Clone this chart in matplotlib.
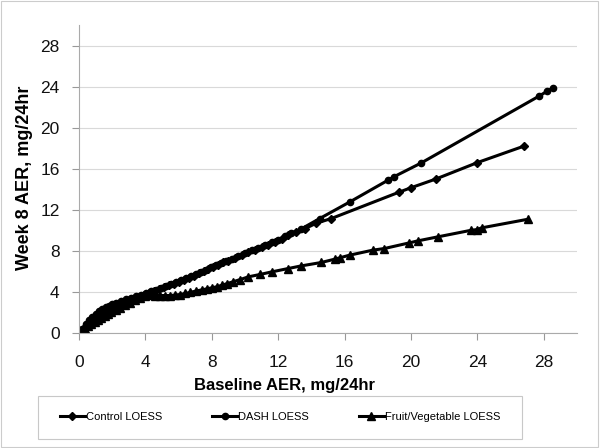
import matplotlib
matplotlib.use("Agg")
import matplotlib.pyplot as plt
from matplotlib.patches import Rectangle

plt.rcParams['font.family'] = ['Liberation Sans', 'DejaVu Sans']

# Control LOESS
control_x = [0.1, 0.3, 0.5, 0.7, 0.9, 1.1, 1.3, 1.5, 1.7, 1.9, 2.1, 2.4, 2.7, 3.0, 3.3,
             3.6, 3.9, 4.2, 4.5, 4.8, 5.1, 5.4, 5.7, 6.0, 6.3, 6.6, 6.9, 7.2, 7.5, 7.8,
             8.1, 8.4, 8.7, 9.0, 9.4, 9.8, 10.2, 10.6, 11.0, 11.4, 11.8, 12.2, 12.6,
             13.1, 13.6, 14.3, 15.2, 19.3, 20.0, 21.5, 24.0, 26.8]
control_y = [0.2, 0.5, 0.85, 1.1, 1.35, 1.6, 1.8, 2.0, 2.2, 2.35, 2.5, 2.7, 2.9, 3.1, 3.3,
             3.5, 3.7, 3.85, 4.05, 4.25, 4.45, 4.65, 4.8, 5.0, 5.2, 5.4, 5.6, 5.8, 6.0, 6.25,
             6.45, 6.65, 6.9, 7.05, 7.3, 7.6, 7.85, 8.1, 8.35, 8.6, 8.9, 9.2, 9.5,
             9.8, 10.15, 10.7, 11.15, 13.73, 14.15, 15.0, 16.6, 18.2]

# DASH LOESS
dash_x = [0.2, 0.4, 0.6, 0.8, 1.0, 1.2, 1.4, 1.6, 1.8, 2.0, 2.25, 2.55, 2.85, 3.15, 3.45,
          3.75, 4.05, 4.35, 4.65, 4.95, 5.25, 5.55, 5.85, 6.15, 6.45, 6.75, 7.05, 7.35, 7.65,
          7.95, 8.25, 8.55, 8.85, 9.2, 9.6, 10.0, 10.4, 10.8, 11.2, 11.6, 12.0, 12.4, 12.8,
          13.4, 14.5, 16.35, 18.6, 18.95, 20.6, 27.7, 28.2, 28.56]
dash_y = [0.4, 0.85, 1.25, 1.6, 1.85, 2.1, 2.3, 2.5, 2.65, 2.8, 2.95, 3.1, 3.3, 3.45, 3.6,
          3.75, 3.9, 4.05, 4.2, 4.4, 4.6, 4.8, 4.95, 5.15, 5.35, 5.55, 5.75, 5.95, 6.15,
          6.4, 6.6, 6.8, 7.0, 7.25, 7.5, 7.8, 8.05, 8.3, 8.55, 8.85, 9.1, 9.4, 9.7,
          10.15, 11.15, 12.8, 14.87, 15.2, 16.55, 23.06, 23.55, 23.88]

# Fruit/Vegetable LOESS
fv_x = [0.15, 0.35, 0.55, 0.75, 0.95, 1.15, 1.35, 1.55, 1.75, 1.95, 2.2, 2.5, 2.8, 3.1, 3.4,
        3.7, 4.0, 4.3, 4.6, 4.9, 5.2, 5.5, 5.8, 6.1, 6.4, 6.7, 7.07, 7.4, 7.7, 8.0, 8.3,
        8.6, 8.9, 9.3, 9.7, 10.2, 10.9, 11.6, 12.6, 13.4, 14.6, 15.4, 15.7, 16.3, 17.7,
        18.4, 19.9, 20.4, 21.6, 23.6, 24.0, 24.25, 27.04]
fv_y = [0.2, 0.4, 0.65, 0.85, 1.05, 1.25, 1.45, 1.65, 1.85, 2.0, 2.2, 2.45, 2.7, 2.95, 3.2,
        3.45, 3.65, 3.7, 3.65, 3.65, 3.65, 3.65, 3.7, 3.75, 3.85, 3.95, 4.1, 4.2, 4.3, 4.4, 4.5,
        4.65, 4.8, 5.0, 5.2, 5.47, 5.7, 5.95, 6.28, 6.54, 6.87, 7.19, 7.32, 7.58, 8.07,
        8.23, 8.78, 8.97, 9.36, 10.0, 10.08, 10.24, 11.08]

ticks = [0, 4, 8, 12, 16, 20, 24, 28]

fig = plt.figure(figsize=(6, 4.48), dpi=100)
ax = fig.add_axes([79 / 600, 1 - 333 / 448, 498 / 600, 308 / 448])

ax.plot(control_x, control_y, color='black', lw=2.2, marker='D', ms=4, label='Control LOESS')
ax.plot(dash_x, dash_y, color='black', lw=2.2, marker='o', ms=4.5, label='DASH LOESS')
ax.plot(fv_x, fv_y, color='black', lw=2.2, marker='^', ms=5.5, label='Fruit/Vegetable LOESS')

ax.set_xlim(0, 30)
ax.set_ylim(0, 30)
ax.set_xticks(ticks)
ax.set_yticks(ticks)
ax.tick_params(labelsize=12.5, colors='#999999', labelcolor='#111111', length=5, width=0.8)
ax.tick_params(axis='x', pad=11)
ax.tick_params(axis='y', pad=9)
ax.grid(axis='y', color='#d9d9d9', lw=0.8)
ax.set_axisbelow(True)
for s in ['top', 'right']:
    ax.spines[s].set_visible(False)
for s in ['left', 'bottom']:
    ax.spines[s].set_color('#aaaaaa')
    ax.spines[s].set_linewidth(0.8)

fig.text(284 / 600, 1 - 385 / 448, 'Baseline AER, mg/24hr', ha='center', va='center',
         fontsize=12, fontweight='bold')
fig.text(25 / 600, 1 - 178 / 448, 'Week 8 AER, mg/24hr', ha='center', va='center',
         rotation=90, fontsize=13, fontweight='bold')

# legend frame and outer border
fig.patches.append(Rectangle((38 / 600, 1 - 439 / 448), 484 / 600, 43 / 448,
                             transform=fig.transFigure, fill=False, ec='#c8c8c8', lw=0.8))
fig.patches.append(Rectangle((0.002, 0.002), 0.994, 0.995,
                             transform=fig.transFigure, fill=False, ec='#cccccc', lw=0.8))

fig.legend(loc='center', bbox_to_anchor=(280 / 600, 1 - 417 / 448), ncol=3, frameon=False,
           fontsize=8, handlelength=2.25, handletextpad=0.1, columnspacing=4.5)

fig.savefig('out.png', dpi=100)
